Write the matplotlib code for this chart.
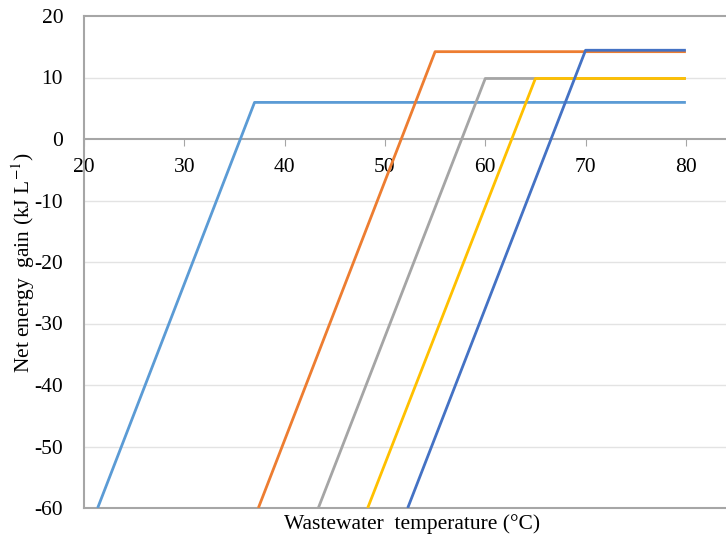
import matplotlib
matplotlib.use("Agg")
import matplotlib.pyplot as plt

# Data: each series as x (temperature, °C) and y (net energy gain, kJ/L)
series_names = ["S1", "S2", "S3", "S4", "S5"]
x_s1 = [21.36, 37.0, 80.0]
y_s1 = [-60.0, 5.95, 5.95]
x_s2 = [37.38, 55.0, 80.0]
y_s2 = [-60.0, 14.2, 14.2]
x_s3 = [43.36, 60.0, 80.0]
y_s3 = [-60.0, 9.84, 9.84]
x_s4 = [48.28, 65.0, 80.0]
y_s4 = [-60.0, 9.84, 9.84]
x_s5 = [52.27, 70.0, 80.0]
y_s5 = [-60.0, 14.43, 14.43]
colors = ["#5B9BD5", "#ED7D31", "#A5A5A5", "#FFC000", "#4472C4"]

x_ticks = [20, 30, 40, 50, 60, 70, 80]
y_ticks = [-60, -50, -40, -30, -20, -10, 0, 10, 20]

plt.rcParams["font.family"] = ["Liberation Serif", "DejaVu Serif"]
plt.rcParams["mathtext.fontset"] = "stix"
plt.rcParams["axes.unicode_minus"] = False

fs = 15.5

fig = plt.figure(figsize=(7.26, 5.39), dpi=100)
ax = fig.add_axes([84/726, 31/539, 1 - 84/726, (508-16)/539])

for xs, ys, c in zip([x_s1, x_s2, x_s3, x_s4, x_s5],
                     [y_s1, y_s2, y_s3, y_s4, y_s5], colors):
    ax.plot(xs, ys, color=c, lw=2.0, solid_capstyle="butt", zorder=3)

ax.set_xlim(20, 84)
ax.set_ylim(-60, 20)
ax.set_xticks(x_ticks)
ax.set_yticks(y_ticks)
ax.tick_params(axis="both", labelsize=fs, colors="#000000")
ax.tick_params(axis="y", length=0, pad=15)
ax.tick_params(axis="x", length=5, color="#A6A6A6", direction="out", pad=9)

for t in y_ticks:
    if t not in (-60, 0, 20):
        ax.axhline(t, color="#E3E3E3", lw=1, zorder=1)
ax.axhline(-60, color="#A6A6A6", lw=1.5, zorder=2, clip_on=False)

ax.spines["right"].set_visible(False)
ax.spines["top"].set_color("#A6A6A6")
ax.spines["top"].set_linewidth(1.5)
ax.spines["left"].set_color("#A6A6A6")
ax.spines["left"].set_linewidth(1.5)
ax.spines["bottom"].set_position(("data", 0))
ax.spines["bottom"].set_color("#A6A6A6")
ax.spines["bottom"].set_linewidth(1.5)

fig.text(412/726, 1 - 524/539, "Wastewater  temperature (°C)", ha="center",
         va="center", fontsize=fs)
fig.text(23/726, 1 - 263/539, "Net energy  gain (kJ L$^{-1}$)", ha="center",
         va="center", rotation=90, fontsize=fs)

fig.savefig("out.png", dpi=100)
